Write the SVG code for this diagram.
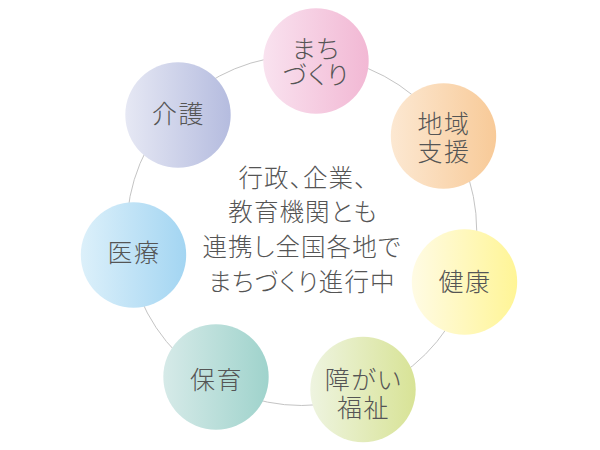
<svg xmlns="http://www.w3.org/2000/svg" width="600" height="450" viewBox="0 0 600 450">
<style>
text{font-family:"Noto Sans CJK JP","Noto Sans",sans-serif;font-weight:300;font-size:24.5px;letter-spacing:1.1px;fill:#555;text-anchor:middle;font-feature-settings:"palt"}
.n{font-size:25px;letter-spacing:1.5px}
.ring{fill:none;stroke:#c4c4c4;stroke-width:1}
</style>
<defs>
<linearGradient id="g1"><stop offset="0" stop-color="#f9e2ef"/><stop offset="1" stop-color="#f2b8d4"/></linearGradient>
<linearGradient id="g2"><stop offset="0" stop-color="#fce8d2"/><stop offset="1" stop-color="#f8ca98"/></linearGradient>
<linearGradient id="g3"><stop offset="0" stop-color="#fffbe4"/><stop offset="1" stop-color="#fff596"/></linearGradient>
<linearGradient id="g4"><stop offset="0" stop-color="#eef4e0"/><stop offset="1" stop-color="#d8e396"/></linearGradient>
<linearGradient id="g5"><stop offset="0" stop-color="#d6eae8"/><stop offset="1" stop-color="#9fd3cc"/></linearGradient>
<linearGradient id="g6"><stop offset="0" stop-color="#dcf0fa"/><stop offset="1" stop-color="#a3d5f2"/></linearGradient>
<linearGradient id="g7"><stop offset="0" stop-color="#e6e8f4"/><stop offset="1" stop-color="#b5bcdf"/></linearGradient>
</defs>
<g id="connectors"><circle class="ring" cx="301.7" cy="230.5" r="175"/></g>
<g id="node-machi"><circle cx="316" cy="61" r="52.7" fill="url(#g1)"/><text class="n" x="316" y="58">まち</text><text class="n" x="316" y="84">づくり</text></g>
<g id="node-chiiki"><circle cx="443.5" cy="136" r="52.7" fill="url(#g2)"/><text class="n" x="444" y="133">地域</text><text class="n" x="444" y="161">支援</text></g>
<g id="node-kenko"><circle cx="464.5" cy="282" r="52.7" fill="url(#g3)"/><text class="n" x="465" y="291">健康</text></g>
<g id="node-shogai"><circle cx="363" cy="389.5" r="52.7" fill="url(#g4)"/><text class="n" x="363.5" y="389">障がい</text><text class="n" x="363.5" y="417">福祉</text></g>
<g id="node-hoiku"><circle cx="216" cy="377" r="52.7" fill="url(#g5)"/><text class="n" x="216.5" y="389">保育</text></g>
<g id="node-iryo"><circle cx="133.5" cy="255" r="52.7" fill="url(#g6)"/><text class="n" x="134" y="262">医療</text></g>
<g id="node-kaigo"><circle cx="178" cy="115" r="52.7" fill="url(#g7)"/><text class="n" x="178.5" y="123">介護</text></g>
<g id="center"><text x="303" y="187">行政、企業、</text><text x="303" y="221">教育機関とも</text><text x="302" y="256">連携し全国各地で</text><text x="302" y="291">まちづくり進行中</text></g>
</svg>
